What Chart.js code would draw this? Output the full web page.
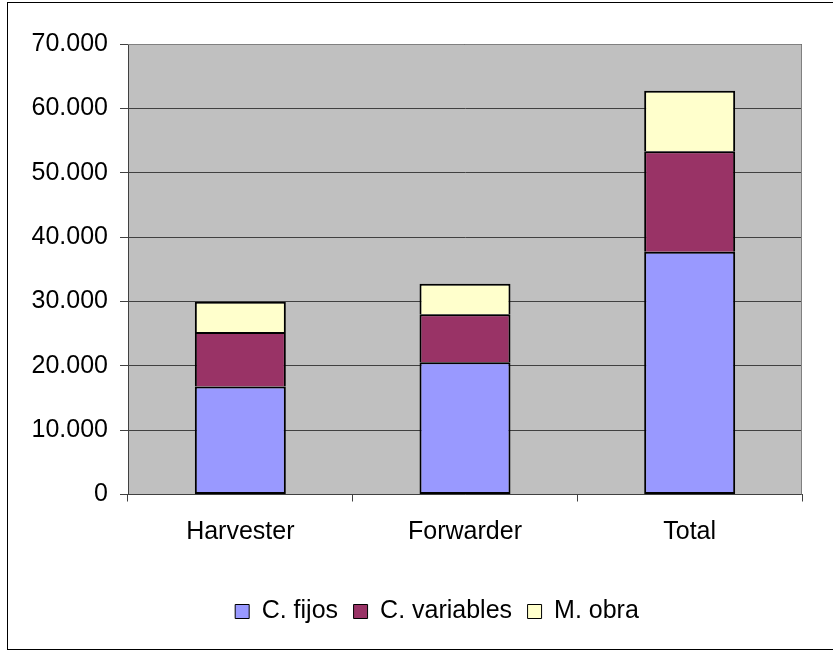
<!DOCTYPE html>
<html>
<head>
<meta charset="utf-8">
<script src="https://cdn.jsdelivr.net/npm/chart.js@4"></script>
<style>
  html, body { margin: 0; padding: 0; background: #fff; }
  #wrap { width: 833px; height: 655px; }
</style>
</head>
<body>
<div id="wrap"><canvas id="c" width="833" height="655"></canvas></div>
<script>
// Machine cost breakdown
const categories = ['Harvester', 'Forwarder', 'Total'];
const seriesNames = ['C. fijos', 'C. variables', 'M. obra'];
const costFijos = [16800, 20550, 37700];
const costVariables = [8450, 7450, 15650];
const costManoObra = [4700, 4750, 9400];
const yTickValues = [0, 10000, 20000, 30000, 40000, 50000, 60000, 70000];
const seriesColors = ['#9999FF', '#993366', '#FFFFCC'];

const FONT = { family: '"Liberation Sans", Arial, sans-serif', size: 25 };

// thousands with a dot, as in "70.000"
function fmt(v) {
  return String(Math.round(v)).replace(/\B(?=(\d{3})+(?!\d))/g, '.');
}

const framePlugin = {
  id: 'frame',
  afterLayout(chart) {
    // nudge the legend row to the right
    const lg = chart.legend;
    if (lg) { lg.left += 20; lg.right += 20; }
  },
  beforeDraw(chart) {
    const { ctx, chartArea: a } = chart;
    ctx.save();
    ctx.fillStyle = '#ffffff';
    ctx.fillRect(0, 0, chart.width, chart.height);
    // outer chart border
    ctx.strokeStyle = '#000000';
    ctx.lineWidth = 1;
    ctx.strokeRect(7.5, 2.5, 840, 647);
    // plot area background
    ctx.fillStyle = '#C0C0C0';
    ctx.fillRect(a.left, a.top, a.right - a.left, a.bottom - a.top);
    ctx.restore();
  },
  beforeDatasetsDraw(chart) {
    const { ctx, chartArea: a } = chart;
    ctx.save();
    ctx.strokeStyle = '#808080';
    ctx.lineWidth = 1;
    ctx.beginPath();
    ctx.moveTo(a.left, a.top + 0.5);
    ctx.lineTo(a.right - 0.5, a.top + 0.5);
    ctx.lineTo(a.right - 0.5, a.bottom);
    ctx.stroke();
    ctx.restore();
  }
};

const seriesValues = [costFijos, costVariables, costManoObra];

new Chart(document.getElementById('c'), {
  type: 'bar',
  data: {
    labels: categories,
    datasets: seriesNames.map((name, i) => ({
      label: name,
      data: seriesValues[i],
      backgroundColor: seriesColors[i],
      borderColor: '#000000',
      // stacked segments share a single 2px seam
      borderWidth: i === 0 ? 2 : { top: 2, left: 2, right: 2, bottom: 0 },
      borderSkipped: false,
      barPercentage: 0.9,
      categoryPercentage: 0.45
    }))
  },
  options: {
    responsive: false,
    animation: false,
    devicePixelRatio: 1,
    layout: { padding: { left: 32, right: 31, top: 44, bottom: 21 } },
    plugins: {
      tooltip: { enabled: false },
      legend: {
        position: 'bottom',
        labels: {
          font: FONT,
          color: '#000000',
          boxWidth: 14,
          boxHeight: 14,
          padding: 15.5,
          generateLabels(chart) {
            return chart.data.datasets.map((ds, i) => ({
              text: ds.label,
              fillStyle: ds.backgroundColor,
              strokeStyle: '#000000',
              lineWidth: 1,
              hidden: false,
              datasetIndex: i,
              fontColor: '#000000'
            }));
          }
        }
      }
    },
    scales: {
      x: {
        stacked: true,
        grid: {
          offset: true,
          drawOnChartArea: false,
          drawTicks: true,
          tickLength: 7,
          tickColor: '#404040'
        },
        border: { color: '#404040', width: 1 },
        ticks: { font: FONT, color: '#000000', padding: 16 },
        afterFit(scale) { scale.height = 89; }
      },
      y: {
        stacked: true,
        min: 0,
        max: 70000,
        afterBuildTicks(scale) {
          scale.ticks = yTickValues.map(v => ({ value: v }));
        },
        grid: {
          color: '#404040',
          lineWidth: 1,
          tickLength: 8,
          tickColor: '#404040'
        },
        border: { color: '#404040', width: 1 },
        ticks: {
          font: FONT,
          color: '#000000',
          padding: 12,
          callback: v => fmt(v)
        },
        afterFit(scale) { scale.width = 96; }
      }
    }
  },
  plugins: [framePlugin]
});
</script>
</body>
</html>
